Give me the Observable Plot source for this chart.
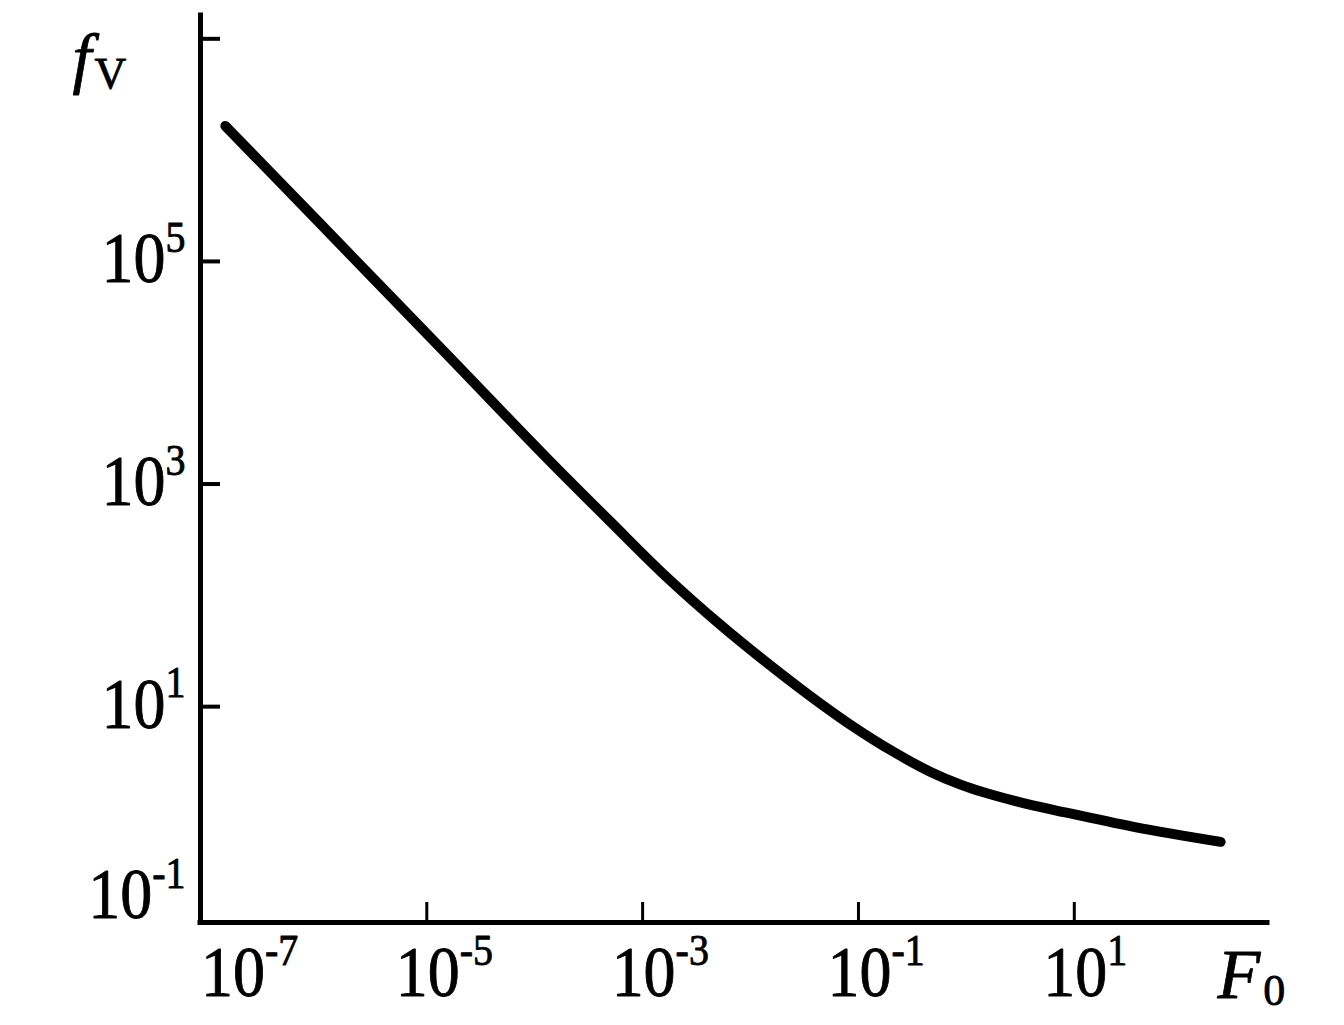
<!DOCTYPE html>
<html>
<head>
<meta charset="utf-8">
<script src="https://cdn.jsdelivr.net/npm/d3@7"></script>
<script src="https://cdn.jsdelivr.net/npm/@observablehq/plot@0.6"></script>
<style>
  html, body { margin: 0; padding: 0; background: #fff; }
  #chart { width: 1344px; height: 1025px; }
</style>
</head>
<body>
<div id="chart"></div>
<script>
// ---- data (F0 vs fV, log–log) ----
const F0 = [1.36e-7, 9.7e-7, 3.21e-6, 1.66e-5, 1.32e-4, 5.05e-4, 1.70e-3, 5.27e-3, 1.24e-2, 2.90e-2, 8.45e-2, 0.211, 0.466, 0.883, 2.98, 8.67, 35.5, 227];
const fV = [1.65e6, 2.32e5, 6.98e4, 1.35e4, 1.68e3, 457, 143.6, 54.3, 27.5, 14.5, 6.87, 3.93, 2.59, 1.99, 1.40, 1.11, 0.832, 0.610];

const xTickValues = [1e-5, 1e-3, 1e-1, 1e1];
const xLabelExponents = [-7, -5, -3, -1, 1];
const yTickValues = [1e7, 1e5, 1e3, 1e1];
const yLabelExponents = [5, 3, 1, -1];

const xDomain = [8.0e-8, 617];
const yDomain = [0.115, 1.62e7];

const curveData = F0.map((x, i) => ({x, y: fV[i]}));
const xLabels = xLabelExponents.map(e => ({v: Math.pow(10, e), label: `10^${e}`}));
const yLabels = yLabelExponents.map(e => ({v: Math.pow(10, e), label: `10^${e}`}));

const serif = "'Liberation Serif', 'DejaVu Serif', serif";
const textStyle = {fill: "black", stroke: "black", strokeWidth: 0.8};

const plot = Plot.plot({
  width: 1344,
  height: 1025,
  marginLeft: 200,
  marginRight: 77,
  marginTop: 15,
  marginBottom: 103,
  style: {background: "white", fontFamily: serif, color: "black"},
  x: {type: "log", domain: xDomain, axis: null},
  y: {type: "log", domain: yDomain, axis: null},
  marks: [
    // axis lines
    Plot.ruleX([xDomain[0]], {stroke: "black", strokeWidth: 5, strokeLinecap: "square"}),
    Plot.ruleY([yDomain[0]], {stroke: "black", strokeWidth: 5, strokeLinecap: "square"}),
    // inward ticks
    Plot.ruleX(xTickValues, {x: d => d, y1: yDomain[0], y2: yDomain[0], insetTop: -20, stroke: "black", strokeWidth: 3}),
    Plot.ruleY(yTickValues, {y: d => d, x1: xDomain[0], x2: xDomain[0], insetRight: -20, stroke: "black", strokeWidth: 4}),
    // curve
    Plot.line(curveData, {x: "x", y: "y", curve: "monotone-x", stroke: "black", strokeWidth: 10, strokeLinecap: "round", strokeLinejoin: "round"}),
    // x tick labels
    Plot.text(xLabels.slice(0, 1), {x: "v", y: () => yDomain[0], text: "label", textAnchor: "start", lineAnchor: "bottom", dx: -10, dy: 73, fontSize: 64, className: "tick-label", ...textStyle}),
    Plot.text(xLabels.slice(1), {x: "v", y: () => yDomain[0], text: "label", textAnchor: "start", lineAnchor: "bottom", dx: -31, dy: 73, fontSize: 64, className: "tick-label", ...textStyle}),
    // y tick labels
    Plot.text(yLabels.slice(0, 3), {x: () => xDomain[0], y: "v", text: "label", textAnchor: "end", lineAnchor: "bottom", dx: -15, dy: 21, fontSize: 64, className: "tick-label", ...textStyle}),
    Plot.text(yLabels.slice(3), {x: () => xDomain[0], y: "v", text: "label", textAnchor: "end", lineAnchor: "bottom", dx: -15, dy: -11, fontSize: 64, className: "tick-label", ...textStyle}),
    // axis titles
    Plot.text(["f_V"], {frameAnchor: "top-left", text: d => d, textAnchor: "start", lineAnchor: "bottom", dx: -128, dy: 65, fontSize: 68, fontStyle: "italic", ...textStyle}),
    Plot.text(["F_0"], {frameAnchor: "bottom-right", text: d => d, textAnchor: "start", lineAnchor: "bottom", dx: -50, dy: 75, fontSize: 70, fontStyle: "italic", ...textStyle})
  ]
});

// turn "a^b" into superscripts and "a_b" into (upright) subscripts
plot.querySelectorAll("text").forEach(t => {
  const s = t.textContent;
  const m = s.match(/^([^\^_]*)([\^_])(.*)$/);
  if (!m) return;
  const ns = "http://www.w3.org/2000/svg";
  while (t.firstChild) t.removeChild(t.firstChild);
  const base = document.createElementNS(ns, "tspan");
  base.textContent = m[1];
  const extra = document.createElementNS(ns, "tspan");
  extra.textContent = m[3];
  if (m[2] === "^") {
    extra.setAttribute("dy", "-27");
    extra.setAttribute("font-size", "40");
  } else {
    extra.setAttribute("dy", "7");
    extra.setAttribute("dx", "3");
    extra.setAttribute("font-size", "44");
    extra.setAttribute("font-style", "normal");
  }
  t.appendChild(base);
  t.appendChild(extra);
});
// the scanned tick numerals are slightly taller than wide: stretch them vertically about their baseline
plot.querySelectorAll("g.tick-label text").forEach(t => {
  const tr = t.getAttribute("transform") || "";
  t.setAttribute("transform", tr + " scale(1,1.12)");
});

document.getElementById("chart").appendChild(plot);
</script>
</body>
</html>
